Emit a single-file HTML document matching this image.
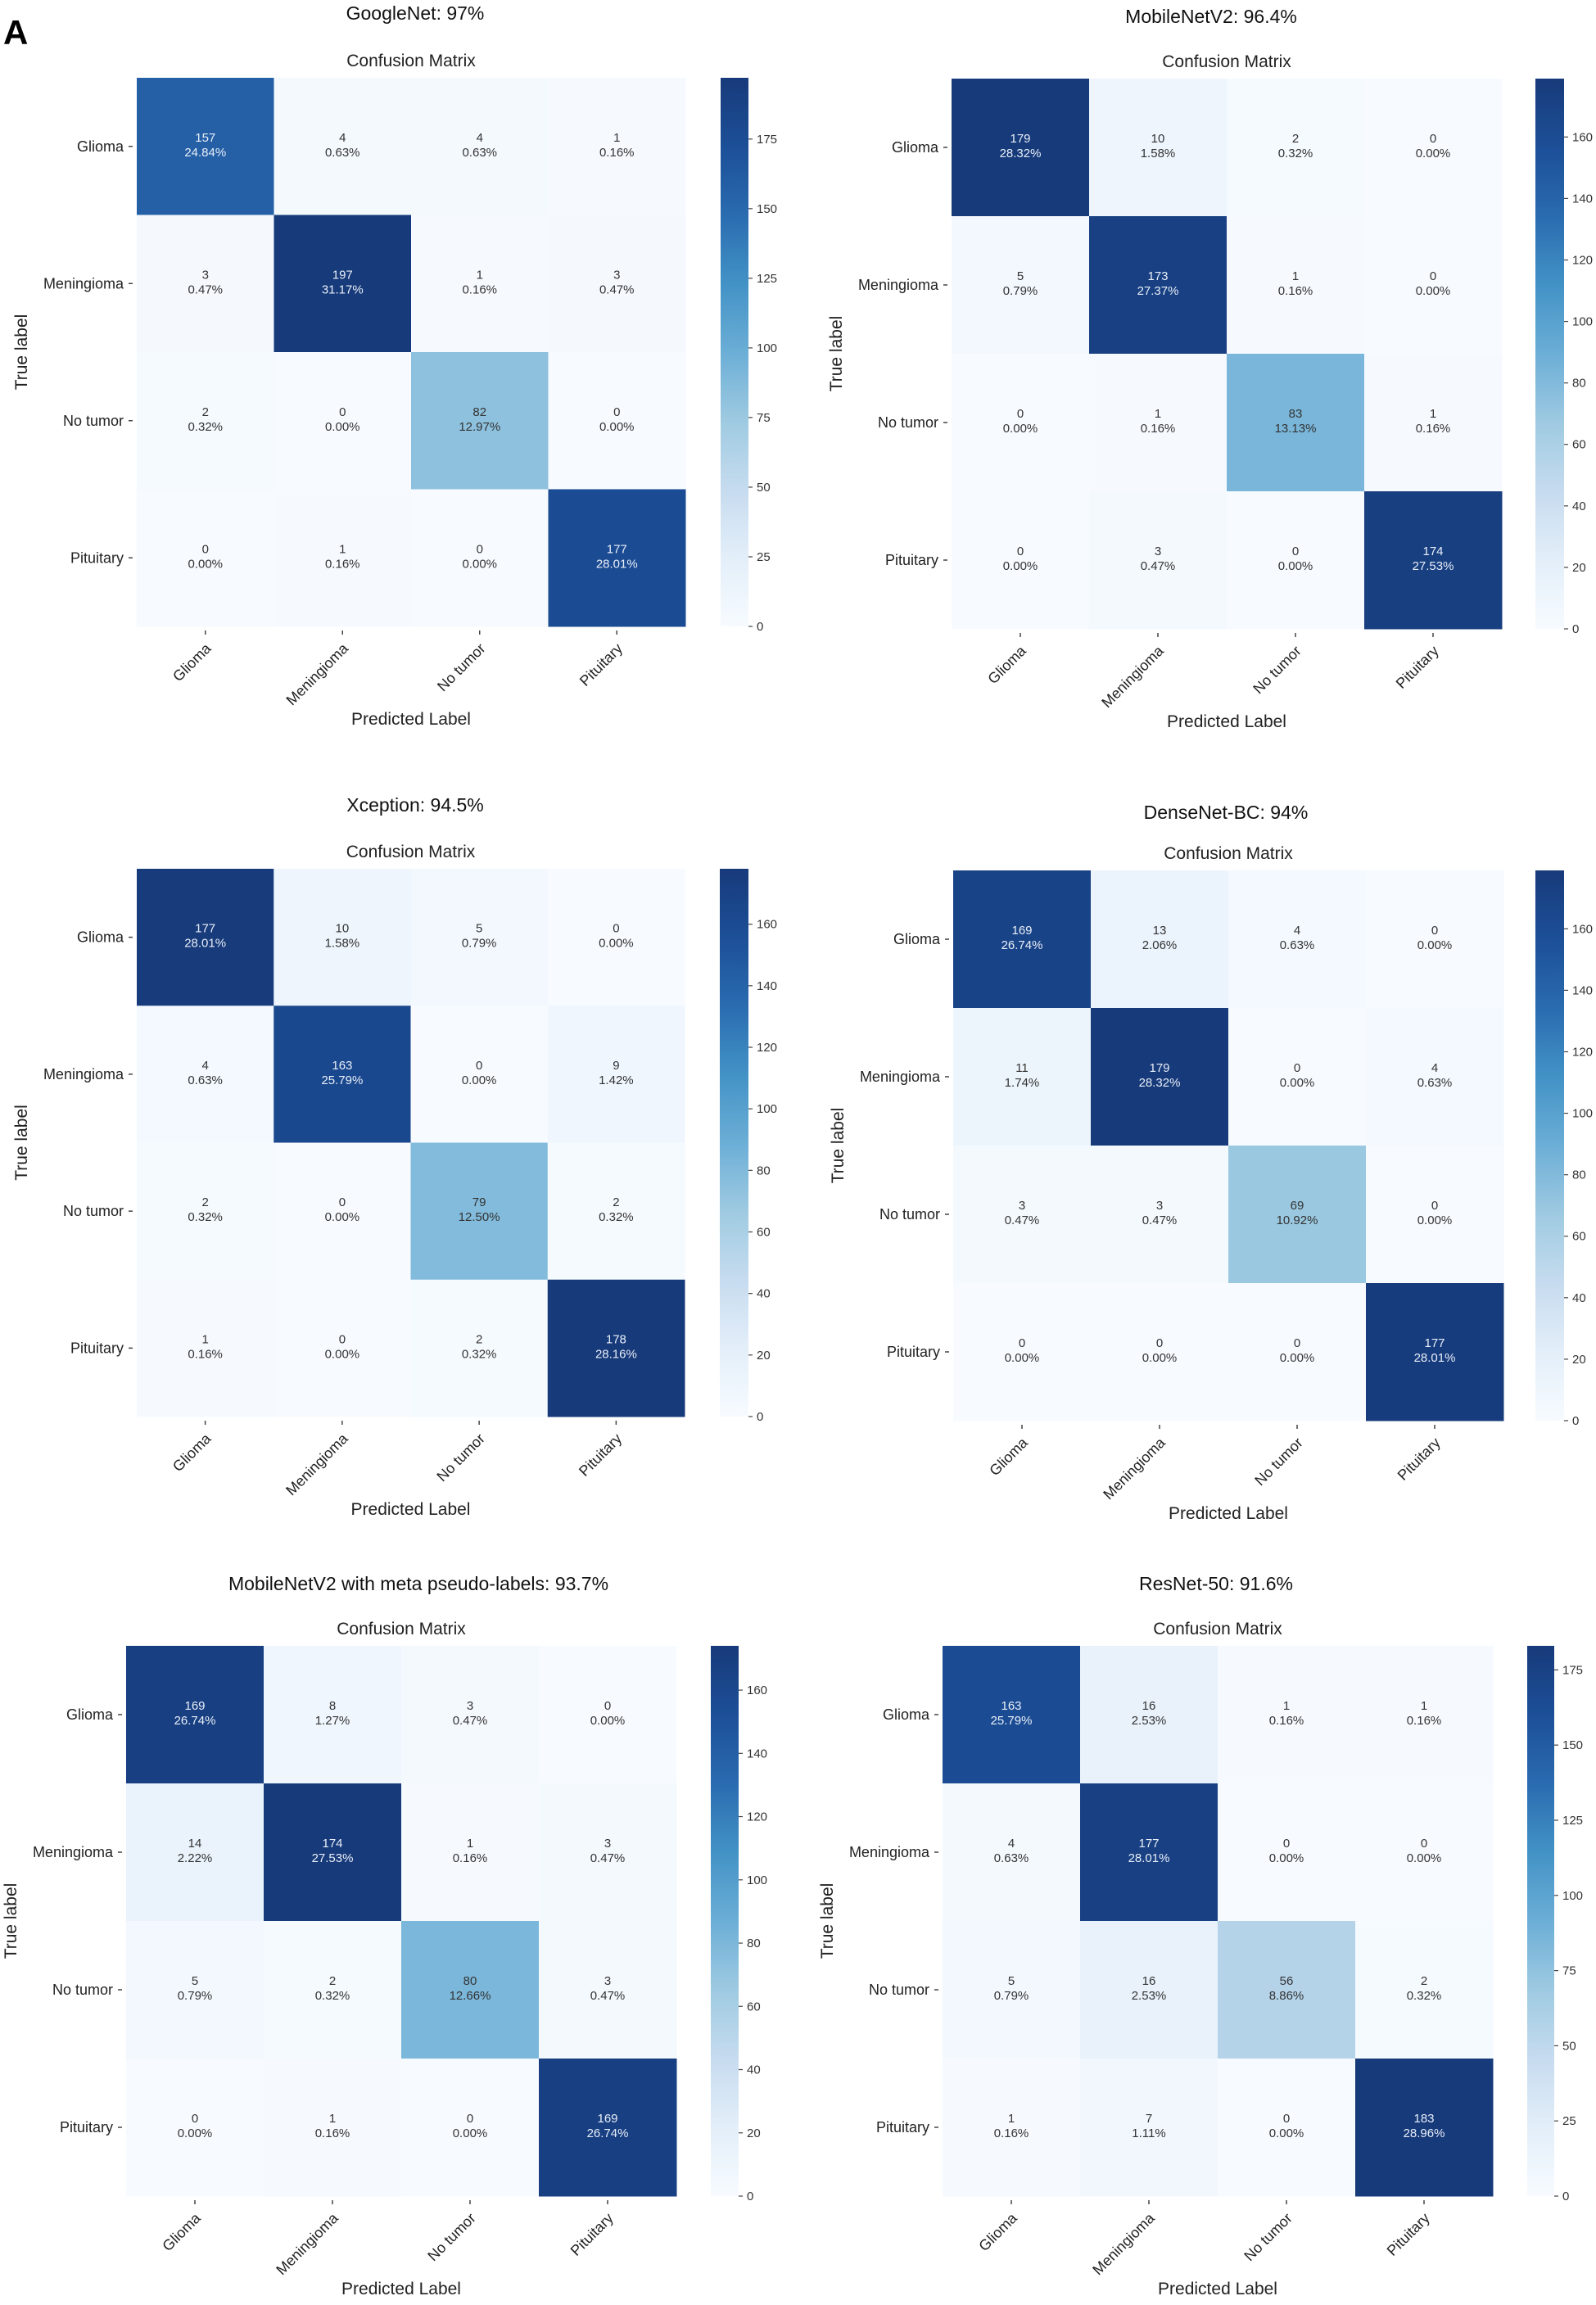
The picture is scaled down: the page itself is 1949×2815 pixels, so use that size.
<!DOCTYPE html>
<html><head><meta charset="utf-8"><style>
html,body{margin:0;padding:0;background:#fff;}
svg{display:block;font-family:"Liberation Sans","DejaVu Sans",sans-serif;}
</style></head><body>
<svg id="fig" width="1949" height="2815" viewBox="0 0 1949 2815" xmlns="http://www.w3.org/2000/svg">
<text x="4" y="54" font-size="42" font-weight="bold" fill="#000">A</text>
</svg>
<script>
const classes = ["Glioma","Meningioma","No tumor","Pituitary"];
const googlenet = [[157,4,4,1],[3,197,1,3],[2,0,82,0],[0,1,0,177]];
const mobilenet = [[179,10,2,0],[5,173,1,0],[0,1,83,1],[0,3,0,174]];
const xception = [[177,10,5,0],[4,163,0,9],[2,0,79,2],[1,0,2,178]];
const densenet = [[169,13,4,0],[11,179,0,4],[3,3,69,0],[0,0,0,177]];
const metapseudo = [[169,8,3,0],[14,174,1,3],[5,2,80,3],[0,1,0,169]];
const resnet = [[163,16,1,1],[4,177,0,0],[5,16,56,2],[1,7,0,183]];
const titles = ["GoogleNet: 97%","MobileNetV2: 96.4%","Xception: 94.5%","DenseNet-BC: 94%","MobileNetV2 with meta pseudo-labels: 93.7%","ResNet-50: 91.6%"];
const cbTicksA = [0,25,50,75,100,125,150,175];
const cbTicksB = [0,20,40,60,80,100,120,140,160];

const NS="http://www.w3.org/2000/svg";
const svg=document.getElementById('fig');
const stops=["#f7fbff","#e3eef9","#c6dbef","#9ecae1","#6baed6","#4292c6","#2a6bb0","#1c4f97","#173a7a"];
function hex(h){return [parseInt(h.substr(1,2),16),parseInt(h.substr(3,2),16),parseInt(h.substr(5,2),16)];}
function blues(t){t=Math.max(0,Math.min(1,t));const p=t*(stops.length-1);const i=Math.min(Math.floor(p),stops.length-2);const f=p-i;const a=hex(stops[i]),b=hex(stops[i+1]);return 'rgb('+a.map((v,k)=>Math.round(v+(b[k]-v)*f)).join(',')+')';}
function mk(tag,attrs,parent){const e=document.createElementNS(NS,tag);for(const k in attrs)e.setAttribute(k,attrs[k]);(parent||svg).appendChild(e);return e;}

const panels=[
 {data:googlenet,title:titles[0],ticks:cbTicksA,gx:167,gy:95,gs:670,cbx:880,cbw:34,ty:24,tcx:507},
 {data:mobilenet,title:titles[1],ticks:cbTicksB,gx:1162,gy:96,gs:672,cbx:1875,cbw:35,ty:28,tcx:1479},
 {data:xception,title:titles[2],ticks:cbTicksB,gx:167,gy:1061,gs:669,cbx:879,cbw:35,ty:991,tcx:507},
 {data:densenet,title:titles[3],ticks:cbTicksB,gx:1164,gy:1063,gs:672,cbx:1875,cbw:35,ty:1000,tcx:1497},
 {data:metapseudo,title:titles[4],ticks:cbTicksB,gx:154,gy:2010,gs:672,cbx:868,cbw:34,ty:1942,tcx:511},
 {data:resnet,title:titles[5],ticks:cbTicksA,gx:1151,gy:2010,gs:672,cbx:1865,cbw:33,ty:1942,tcx:1485}
];

panels.forEach((p,pi)=>{
 const g=mk('g',{});
 
 
 const data=p.data;
 const flat=data.flat();
 const total=flat.reduce((a,b)=>a+b,0);
 const vmin=Math.min(...flat), vmax=Math.max(...flat);
 const n=classes.length, cs=p.gs/n;
 const xs=c=>p.gx+c*cs, ys=r=>p.gy+r*cs;
 const norm=v=>(v-vmin)/(vmax-vmin);
 let t=mk('text',{x:p.tcx,y:p.ty,'text-anchor':'middle','font-size':23,fill:'#111'},g);t.textContent=p.title;
 
 
 t=mk('text',{x:p.gx+p.gs/2,y:p.gy-14,'text-anchor':'middle','font-size':21,fill:'#222'},g);t.textContent='Confusion Matrix';
 
 
 data.forEach((row,r)=>row.forEach((v,c)=>{
  const rc=mk('rect',{x:xs(c),y:ys(r),width:cs+0.5,height:cs+0.5,fill:blues(norm(v))},g);
  
  
  const col=norm(v)>0.55?'#e8eef8':'#333';
  const cx=xs(c)+cs/2, cy=ys(r)+cs/2;
  let a=mk('text',{x:cx,y:cy-6,'text-anchor':'middle','font-size':15,fill:col},g);a.textContent=v;
  
  
  let b=mk('text',{x:cx,y:cy+12,'text-anchor':'middle','font-size':15,fill:col},g);b.textContent=(v/total*100).toFixed(2)+'%';
  
  
 }));
 classes.forEach((name,i)=>{
  const yc=ys(i)+cs/2;
  let l=mk('text',{x:p.gx-16,y:yc+6,'text-anchor':'end','font-size':18,fill:'#222'},g);l.textContent=name;
  
  
  mk('line',{x1:p.gx-10,x2:p.gx-5,y1:yc,y2:yc,stroke:'#444','stroke-width':1.5},g);
  const xc=xs(i)+cs/2, yb=p.gy+p.gs;
  mk('line',{x1:xc,x2:xc,y1:yb+5,y2:yb+10,stroke:'#444','stroke-width':1.5},g);
  let cl=mk('text',{x:xc+8,y:yb+28,'text-anchor':'end','font-size':18,fill:'#222',transform:'rotate(-45 '+(xc+8)+' '+(yb+28)+')'},g);cl.textContent=name;
  
  
 });
 let yl=mk('text',{x:0,y:0,'text-anchor':'middle','font-size':21,fill:'#222',transform:'translate('+(p.gx-134)+' '+(p.gy+p.gs/2)+') rotate(-90)'},g);yl.textContent='True label';
 
 
 let xl=mk('text',{x:p.gx+p.gs/2,y:p.gy+p.gs+120,'text-anchor':'middle','font-size':21,fill:'#222'},g);xl.textContent='Predicted Label';
 
 
 const gid='grad'+pi;
 const lg=mk('linearGradient',{id:gid,x1:0,y1:1,x2:0,y2:0},g);
 for(let k=0;k<=16;k++){mk('stop',{offset:k/16,'stop-color':blues(k/16)},lg);}
 const cb=mk('rect',{x:p.cbx,y:p.gy,width:p.cbw,height:p.gs,fill:'url(#'+gid+')'},g);
 
 
 p.ticks.forEach(tv=>{
  const yy=p.gy+p.gs-(tv-vmin)/(vmax-vmin)*p.gs;
  mk('line',{x1:p.cbx+p.cbw,x2:p.cbx+p.cbw+5,y1:yy,y2:yy,stroke:'#444','stroke-width':1.2},g);
  let tt=mk('text',{x:p.cbx+p.cbw+10,y:yy+5,'font-size':15,fill:'#333'},g);tt.textContent=tv;
  
  
 });
});
</script>
</body></html>
